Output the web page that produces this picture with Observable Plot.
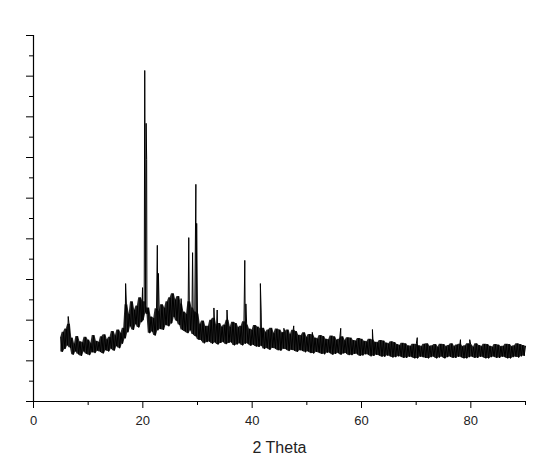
<!DOCTYPE html>
<html>
<head>
<meta charset="utf-8">
<script src="https://cdn.jsdelivr.net/npm/d3@7"></script>
<script src="https://cdn.jsdelivr.net/npm/@observablehq/plot@0.6"></script>
<style>
  html, body { margin: 0; padding: 0; background: #fff; }
</style>
</head>
<body>
<div id="chart"></div>
<script>
// Scan sampling: 2θ from 5° in 0.25° steps
const thetaStart = 5;
const thetaStep = 0.25;

// Background counts (noisy band, 4 samples per degree)
const backgroundCounts = [
  1580,1220,1700,1290,  // 5
  1780,1380,1900,1320,  // 6
  1560,1150,1420,1230,  // 7
  1600,1160,1470,1120,  // 8
  1450,1230,1580,1170,  // 9
  1510,1140,1430,1210,  // 10
  1620,1190,1480,1250,  // 11
  1460,1220,1590,1180,  // 12
  1640,1260,1520,1230,  // 13
  1580,1300,1720,1250,  // 14
  1620,1360,1760,1310,  // 15
  1680,1420,1800,1550,  // 16
  2380,1700,2150,1850,  // 17
  2450,1760,2250,1900,  // 18
  2350,1820,2550,1950,  // 19
  2000,2450,2200,2150,  // 20
  2300,1680,2080,1720,  // 21
  2050,1620,2280,1750,  // 22
  2200,1780,2380,1760,  // 23
  2300,1880,2450,1850,  // 24
  2550,1920,2650,2080,  // 25
  2500,1980,2580,1880,  // 26
  2400,1760,2200,1720,  // 27
  2150,1680,2450,1750,  // 28
  2300,1650,2200,1600,  // 29
  2150,1520,1900,1500,  // 30
  1980,1430,1850,1460,  // 31
  1850,1470,2000,1420,  // 32
  2050,1450,1870,1400,  // 33
  1920,1440,1830,1460,  // 34
  1880,1410,2000,1440,  // 35
  1830,1450,1950,1380,  // 36
  1920,1400,1820,1430,  // 37
  1850,1380,1960,1420,  // 38
  1880,1420,1780,1370,  // 39
  1760,1390,1870,1350,  // 40
  1830,1340,1790,1370,  // 41
  1800,1290,1700,1310,  // 42
  1760,1270,1800,1320,  // 43
  1680,1300,1780,1260,  // 44
  1760,1250,1690,1300,  // 45
  1700,1280,1760,1240,  // 46
  1650,1270,1750,1250,  // 47
  1720,1220,1630,1260,  // 48
  1620,1240,1690,1210,  // 49
  1580,1230,1650,1190,  // 50
  1640,1180,1560,1220,  // 51
  1540,1200,1620,1170,  // 52
  1600,1160,1530,1200,  // 53
  1520,1190,1610,1150,  // 54
  1590,1170,1510,1190,  // 55
  1530,1150,1590,1180,  // 56
  1500,1180,1570,1140,  // 57
  1560,1140,1500,1170,  // 58
  1490,1160,1550,1120,  // 59
  1530,1130,1480,1160,  // 60
  1470,1150,1530,1110,  // 61
  1510,1120,1460,1150,  // 62
  1450,1130,1500,1100,  // 63
  1490,1100,1440,1130,  // 64
  1420,1110,1470,1080,  // 65
  1450,1090,1400,1110,  // 66
  1380,1100,1430,1070,  // 67
  1420,1070,1370,1100,  // 68
  1360,1090,1410,1060,  // 69
  1400,1060,1370,1100,  // 70
  1350,1090,1410,1070,  // 71
  1420,1060,1360,1090,  // 72
  1370,1100,1400,1060,  // 73
  1340,1080,1410,1100,  // 74
  1400,1060,1350,1090,  // 75
  1380,1100,1420,1070,  // 76
  1350,1070,1390,1100,  // 77
  1410,1090,1350,1060,  // 78
  1370,1060,1420,1090,  // 79
  1390,1100,1340,1070,  // 80
  1420,1070,1380,1100,  // 81
  1350,1090,1410,1060,  // 82
  1400,1060,1360,1090,  // 83
  1340,1100,1400,1070,  // 84
  1390,1070,1350,1100,  // 85
  1360,1090,1410,1060,  // 86
  1400,1060,1350,1090,  // 87
  1370,1100,1420,1080,  // 88
  1400,1110,1380,1120,  // 89
  1360                  // 90
];

// Diffraction peaks (2θ position, peak counts)
const peakTheta  = [6.35, 16.85, 19.95, 20.35, 20.6, 20.7, 22.65, 22.85, 27.0, 28.4, 29.1, 29.7, 29.85, 33.0, 33.6, 35.4, 38.65, 38.85, 41.5, 41.65, 45.8, 47.6, 51.0, 56.2, 62.0, 70.2, 78.1, 79.8];
const peakCounts = [2090, 2900, 2800, 8140, 6840, 5950, 3840, 3150, 2530, 4030, 3660, 5340, 4380, 2300, 2250, 2250, 3470, 2400, 2900, 2200, 1800, 1860, 1700, 1800, 1770, 1570, 1520, 1520];

// Axis ticks
const xMajorTicks = [0, 20, 40, 60, 80];
const xMinorTicks = [10, 30, 50, 70, 90];
const yMajorTicks = [0, 1000, 2000, 3000, 4000, 5000, 6000, 7000, 8000, 9000];
const yMinorTicks = [500, 1500, 2500, 3500, 4500, 5500, 6500, 7500, 8500];
const xLabel = "2 Theta";

// Background table, with the local noise band (min / max of neighbouring samples)
const background = backgroundCounts.map((c, i) => {
  const nb = backgroundCounts.slice(Math.max(0, i - 1), i + 2);
  return {theta: thetaStart + i * thetaStep, counts: c, lo: d3.min(nb), hi: d3.max(nb)};
});

// Full scan table: background samples plus peaks, sorted by angle
const scan = background.map(d => ({theta: d.theta, counts: d.counts}))
  .concat(peakTheta.map((t, i) => ({theta: t, counts: peakCounts[i]})))
  .sort((a, b) => a.theta - b.theta);

const chart = Plot.plot({
  width: 560,
  height: 458,
  marginTop: 35,
  marginBottom: 57,
  marginLeft: 33,
  marginRight: 35,
  style: {background: "#fff", fontFamily: "'Liberation Sans', Arial, sans-serif", fontSize: "13px", color: "#000"},
  x: {domain: [0, 90]},
  y: {domain: [0, 9000]},
  marks: [
    Plot.axisX({ticks: xMajorTicks, tickSize: 7, tickPadding: 7, label: null, stroke: "#000", strokeOpacity: 1, fill: "#222"}),
    Plot.axisX({ticks: xMinorTicks, tickSize: 4, tickFormat: () => "", label: null, stroke: "#000", strokeOpacity: 1}),
    Plot.axisY({ticks: yMajorTicks, tickSize: 7, tickFormat: () => "", label: null, stroke: "#000", strokeOpacity: 1}),
    Plot.axisY({ticks: yMinorTicks, tickSize: 4, tickFormat: () => "", label: null, stroke: "#000", strokeOpacity: 1}),
    Plot.ruleX([0], {stroke: "#000", strokeWidth: 1.2}),
    Plot.ruleY([0], {stroke: "#000", strokeWidth: 1.2}),
    Plot.areaY(background, {x: "theta", y1: "lo", y2: "hi", fill: "#000", fillOpacity: 0.85}),
    Plot.line(scan, {x: "theta", y: "counts", stroke: "#000", strokeWidth: 1}),
    Plot.text([xLabel], {frameAnchor: "bottom", dy: 46, fontSize: 16, fill: "#222", lineAnchor: "middle"})
  ]
});
document.getElementById("chart").appendChild(chart);
</script>
</body>
</html>
